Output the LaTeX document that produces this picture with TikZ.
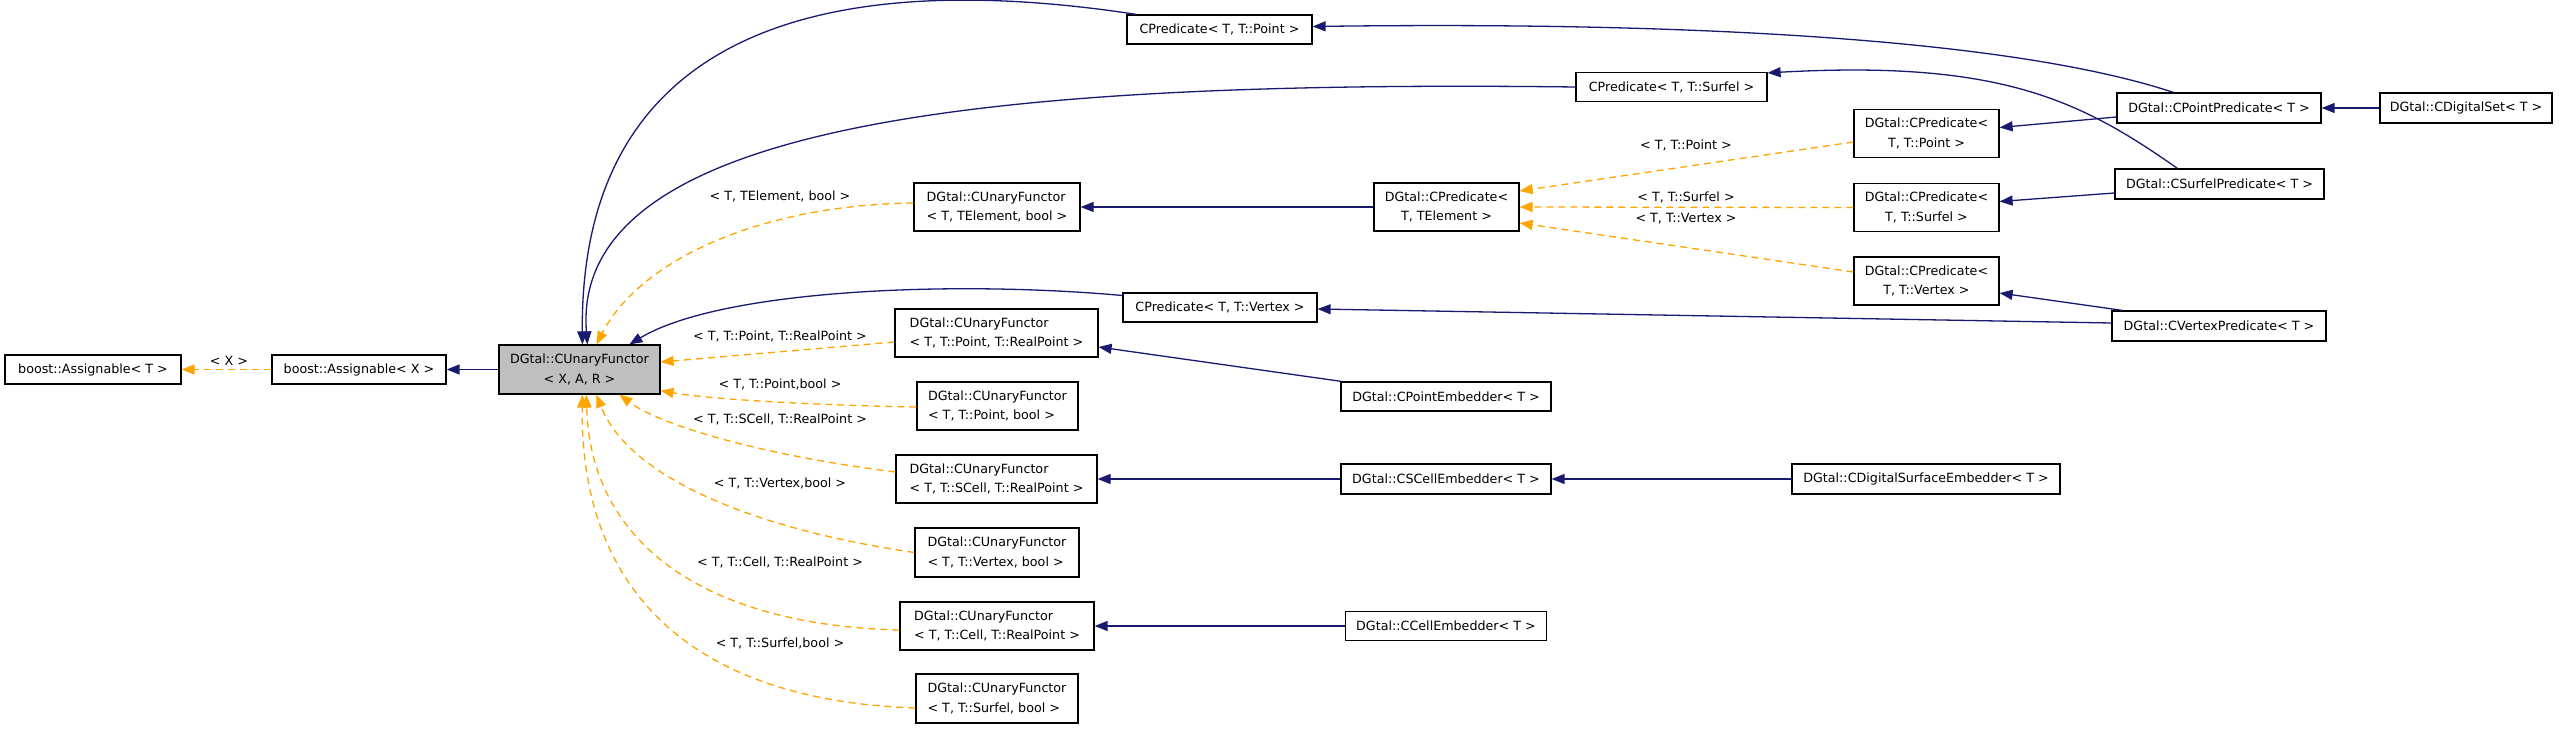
\documentclass[tikz,border=0pt]{standalone}
\usepackage{fontspec}
\setmainfont{DejaVu Sans}
\usetikzlibrary{arrows.meta,calc}
\definecolor{navy}{HTML}{191970}
\definecolor{tplorange}{HTML}{FFA500}
\definecolor{maingray}{HTML}{BFBFBF}
\begin{document}
\begin{tikzpicture}[x=1pt,y=-1pt,
  box/.style={draw=black,line width=1.2pt,fill=white,inner sep=0pt,font=\fontsize{12.7}{19.5}\selectfont,align=center},
  lbox/.style={box,align=left},
  lab/.style={font=\fontsize{12.7}{19.5}\selectfont,inner sep=0pt},
  inh/.style={draw=navy,line width=1.3pt,-{Triangle[length=13pt,width=10pt]}},
  tpl/.style={draw=tplorange,line width=1.3pt,dash pattern=on 7pt off 5pt,-{Triangle[length=13pt,width=10pt]}},
]
\fill[white] (0,0) rectangle (2560,730);
\useasboundingbox (0,0) rectangle (2560,730);

% nodes
\node[box,minimum width=176pt,minimum height=29pt] (boostT) at (93,369.5) {boost::Assignable< T >};
\node[box,minimum width=174pt,minimum height=29pt] (boostX) at (359,369.5) {boost::Assignable< X >};
\node[box,fill=maingray,minimum width=161pt,minimum height=49pt] (main) at (579.5,369.5) {DGtal::CUnaryFunctor\\< X, A, R >};
\node[box,minimum width=185pt,minimum height=29pt] (cpp) at (1219.5,29.5) {CPredicate< T, T::Point >};
\node[box,minimum width=191pt,minimum height=29pt] (cps) at (1671.5,87) {CPredicate< T, T::Surfel >};
\node[lbox,minimum width=166pt,minimum height=48pt] (ufE) at (997,207) {DGtal::CUnaryFunctor\\< T, TElement, bool >};
\node[box,minimum width=145pt,minimum height=48pt] (dcpE) at (1446.5,207) {DGtal::CPredicate<\\T, TElement >};
\node[box,minimum width=145pt,minimum height=48pt] (dcpP) at (1926.5,133.5) {DGtal::CPredicate<\\T, T::Point >};
\node[box,minimum width=145pt,minimum height=48pt] (dcpS) at (1926.5,207.5) {DGtal::CPredicate<\\T, T::Surfel >};
\node[box,minimum width=145pt,minimum height=48pt] (dcpV) at (1926.5,281) {DGtal::CPredicate<\\T, T::Vertex >};
\node[box,minimum width=204pt,minimum height=30pt] (cPP) at (2219,108) {DGtal::CPointPredicate< T >};
\node[box,minimum width=172pt,minimum height=30pt] (cDS) at (2466,108) {DGtal::CDigitalSet< T >};
\node[box,minimum width=209pt,minimum height=30pt] (cSP) at (2219.5,184) {DGtal::CSurfelPredicate< T >};
\node[box,minimum width=214pt,minimum height=30pt] (cVP) at (2219,326) {DGtal::CVertexPredicate< T >};
\node[box,minimum width=194pt,minimum height=29pt] (cpv) at (1220,307.5) {CPredicate< T, T::Vertex >};
\node[lbox,minimum width=203pt,minimum height=48pt] (ufPR) at (996.5,333) {DGtal::CUnaryFunctor\\< T, T::Point, T::RealPoint >};
\node[box,minimum width=210pt,minimum height=29pt] (cPE) at (1446,396.5) {DGtal::CPointEmbedder< T >};
\node[lbox,minimum width=161pt,minimum height=48pt] (ufPB) at (997.5,406) {DGtal::CUnaryFunctor\\< T, T::Point, bool >};
\node[lbox,minimum width=201pt,minimum height=48pt] (ufSR) at (996.5,479) {DGtal::CUnaryFunctor\\< T, T::SCell, T::RealPoint >};
\node[box,minimum width=210pt,minimum height=30pt] (cSE) at (1446,479) {DGtal::CSCellEmbedder< T >};
\node[box,minimum width=268pt,minimum height=30pt] (cDSE) at (1926,479) {DGtal::CDigitalSurfaceEmbedder< T >};
\node[lbox,minimum width=164pt,minimum height=49pt] (ufVB) at (997,552.5) {DGtal::CUnaryFunctor\\< T, T::Vertex, bool >};
\node[lbox,minimum width=194pt,minimum height=48pt] (ufCR) at (997,626) {DGtal::CUnaryFunctor\\< T, T::Cell, T::RealPoint >};
\node[box,minimum width=201pt,minimum height=29pt] (cCE) at (1446,626) {DGtal::CCellEmbedder< T >};
\node[lbox,minimum width=162pt,minimum height=49pt] (ufSB) at (997,698.5) {DGtal::CUnaryFunctor\\< T, T::Surfel, bool >};

% labels
\node[lab] (lX) at (229,361) {< X >};
\node[lab] (lE) at (780,196) {< T, TElement, bool >};
\node[lab] (lPR) at (780,336) {< T, T::Point, T::RealPoint >};
\node[lab] (lPB) at (780,384) {< T, T::Point,bool >};
\node[lab] (lSR) at (780,419) {< T, T::SCell, T::RealPoint >};
\node[lab] (lVB) at (780,483) {< T, T::Vertex,bool >};
\node[lab] (lCR) at (780,562) {< T, T::Cell, T::RealPoint >};
\node[lab] (lSB) at (780,643) {< T, T::Surfel,bool >};
\node[lab] (lP) at (1686,145) {< T, T::Point >};
\node[lab] (lS) at (1686,197) {< T, T::Surfel >};
\node[lab] (lV) at (1686,219) {< T, T::Vertex >};

% inheritance edges (blue)
\draw[inh] (main.west) -- (boostX.east);
\draw[inh] ($(cpp.north west)+(10,0)$) .. controls (780,-40) and (580,60) .. ($(main.north west)+(84,0)$);
\draw[inh] (cps.west) .. controls (1000,80) and (570,120) .. ($(main.north west)+(89,0)$);
\draw[inh] ($(cpv.west)+(0,-12)$) .. controls (950,280) and (720,290) .. ($(main.north west)+(131,0)$);
\draw[inh] (dcpE.west) -- (ufE.east);
\draw[inh] ($(cPP.north west)+(57,0)$) .. controls (2000,35) and (1650,22) .. ($(cpp.east)+(0,-3)$);
\draw[inh] ($(cPP.west)+(0,9)$) -- ($(dcpP.east)+(0,-6)$);
\draw[inh] (cDS.west) -- (cPP.east);
\draw[inh] ($(cSP.north west)+(63,0)$) .. controls (2080,100) and (2000,60) .. ($(cps.north east)+(0,1)$);
\draw[inh] ($(cSP.west)+(0,9)$) -- ($(dcpS.east)+(0,-6)$);
\draw[inh] ($(cVP.west)+(0,-3)$) -- ($(cpv.east)+(0,1.5)$);
\draw[inh] ($(cVP.north west)+(11,0)$) -- ($(dcpV.east)+(0,12)$);
\draw[inh] ($(cPE.north west)+(1,0)$) -- ($(ufPR.east)+(0,14)$);
\draw[inh] (cSE.west) -- (ufSR.east);
\draw[inh] (cDSE.west) -- (cSE.east);
\draw[inh] (cCE.west) -- (ufCR.east);

% template edges (orange dashed)
\draw[tpl] (boostX.west) -- (boostT.east);
\draw[tpl] ($(ufE.west)+(0,-4)$) .. controls (760,205) and (640,260) .. ($(main.north west)+(98,0)$);
\draw[tpl] ($(ufPR.west)+(0,9)$) -- ($(main.east)+(0,-7.5)$);
\draw[tpl] ($(ufPB.west)+(0,1)$) .. controls (800,405) and (700,398) .. ($(main.east)+(0,21)$);
\draw[tpl] ($(ufSR.west)+(0,-7)$) .. controls (760,455) and (660,425) .. ($(main.south west)+(121,0)$);
\draw[tpl] (ufVB.west) .. controls (760,530) and (630,480) .. ($(main.south west)+(98,0)$);
\draw[tpl] ($(ufCR.west)+(0,4)$) .. controls (700,625) and (590,540) .. ($(main.south west)+(88,0)$);
\draw[tpl] ($(ufSB.west)+(0,9.5)$) .. controls (680,700) and (580,580) .. ($(main.south west)+(84,0)$);
\draw[tpl] ($(dcpP.west)+(0,8.5)$) -- ($(dcpE.east)+(0,-16)$);
\draw[tpl] (dcpS.west) -- (dcpE.east);
\draw[tpl] ($(dcpV.west)+(0,-9)$) -- ($(dcpE.east)+(0,16)$);
\end{tikzpicture}
\end{document}
